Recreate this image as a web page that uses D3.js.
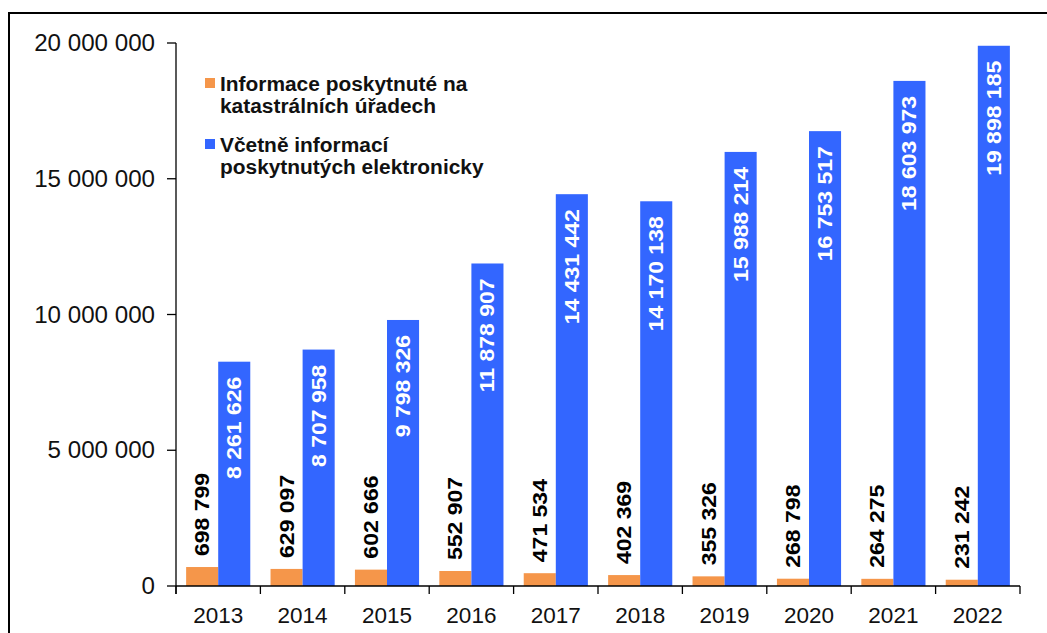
<!DOCTYPE html>
<html>
<head>
<meta charset="utf-8">
<script src="https://cdn.jsdelivr.net/npm/d3@7/dist/d3.min.js"></script>
<style>
  html, body { margin: 0; padding: 0; background: #fff; }
  svg { display: block; font-family: "Liberation Sans", Arial, sans-serif; }
</style>
</head>
<body>
<svg id="chart" width="1047" height="633"></svg>
<script>
const years = ["2013","2014","2015","2016","2017","2018","2019","2020","2021","2022"];
const officeValues = [698799, 629097, 602666, 552907, 471534, 402369, 355326, 268798, 264275, 231242];
const totalValues = [8261626, 8707958, 9798326, 11878907, 14431442, 14170138, 15988214, 16753517, 18603973, 19898185];
const yTicks = [0, 5000000, 10000000, 15000000, 20000000];
const seriesNames = [["Informace poskytnuté na", "katastrálních úřadech"], ["Včetně informací", "poskytnutých elektronicky"]];
const colors = ["#F5964A", "#3366FF"];

const fmt = v => d3.format(",")(v).replace(/,/g, " ");

const svg = d3.select("#chart");

// outer frame (cut off at right/bottom)
svg.append("rect").attr("x", 9).attr("y", 13).attr("width", 1200).attr("height", 800)
  .attr("fill", "none").attr("stroke", "#000").attr("stroke-width", 2);

const x0 = 176, x1 = 1020, yTop = 43, yBot = 586;
const x = d3.scaleBand().domain(years).range([x0, x1]).paddingInner(0.24).paddingOuter(0.12);
const xs = d3.scaleBand().domain([0, 1]).range([0, x.bandwidth()]);
const y = d3.scaleLinear().domain([0, 20000000]).range([yBot, yTop]);

// bars
const g = svg.append("g");
years.forEach((yr, i) => {
  [officeValues[i], totalValues[i]].forEach((v, s) => {
    g.append("rect")
      .attr("x", x(yr) + xs(s))
      .attr("y", y(v))
      .attr("width", xs.bandwidth())
      .attr("height", y(0) - y(v))
      .attr("fill", colors[s]);
  });
});

// y axis
const yAxis = svg.append("g");
yAxis.append("line").attr("x1", x0).attr("x2", x0).attr("y1", y(20000000)).attr("y2", yBot + 8)
  .attr("stroke", "#000").attr("stroke-width", 1.3);
yTicks.forEach(t => {
  yAxis.append("line").attr("x1", x0 - 9).attr("x2", x0).attr("y1", y(t)).attr("y2", y(t))
    .attr("stroke", "#000").attr("stroke-width", 1.3);
  yAxis.append("text").attr("x", x0 - 21).attr("y", y(t)).attr("dy", "0.35em")
    .attr("text-anchor", "end").attr("font-size", 23).attr("fill", "#111")
    .attr("transform", `translate(${x0 - 21},0) scale(1.05,1) translate(${-(x0 - 21)},0)`)
    .text(fmt(t));
});

// x axis
const xAxis = svg.append("g");
xAxis.append("line").attr("x1", x0).attr("x2", x1).attr("y1", yBot).attr("y2", yBot)
  .attr("stroke", "#000").attr("stroke-width", 1.3);
const step = x.step();
d3.range(years.length + 1).forEach(i => {
  const bx = x0 + i * step;
  xAxis.append("line").attr("x1", bx).attr("x2", bx).attr("y1", yBot).attr("y2", yBot + 8)
    .attr("stroke", "#000").attr("stroke-width", 1.3);
});
years.forEach(yr => {
  xAxis.append("text").attr("x", x(yr) + x.bandwidth() / 2).attr("y", yBot + 37)
    .attr("text-anchor", "middle").attr("font-size", 22.5).attr("fill", "#111")
    .text(yr);
});

// value labels
years.forEach((yr, i) => {
  const cxo = x(yr) + xs(0) + xs.bandwidth() / 2;
  const cxb = x(yr) + xs(1) + xs.bandwidth() / 2;
  svg.append("text")
    .attr("transform", `translate(${cxo},${y(officeValues[i]) - 11}) rotate(-90) scale(1.18,1)`)
    .attr("dy", "0.36em").attr("text-anchor", "start")
    .attr("font-size", 19.5).attr("font-weight", "bold").attr("fill", "#000")
    .text(fmt(officeValues[i]));
  svg.append("text")
    .attr("transform", `translate(${cxb},${y(totalValues[i]) + 15}) rotate(-90) scale(1.18,1)`)
    .attr("dy", "0.36em").attr("text-anchor", "end")
    .attr("font-size", 19.5).attr("font-weight", "bold").attr("fill", "#fff")
    .text(fmt(totalValues[i]));
});

// legend
const legendY = [91, 152];
seriesNames.forEach((lines, s) => {
  svg.append("rect").attr("x", 205).attr("y", legendY[s] - 13).attr("width", 10).attr("height", 10)
    .attr("fill", colors[s]);
  lines.forEach((ln, j) => {
    svg.append("text").attr("x", 220).attr("y", legendY[s] + j * 22)
      .attr("font-size", 20.5).attr("font-weight", "bold").attr("fill", "#111")
      .attr("transform", `translate(220,0) scale(1.02,1) translate(-220,0)`)
      .text(ln);
  });
});
</script>
</body>
</html>
